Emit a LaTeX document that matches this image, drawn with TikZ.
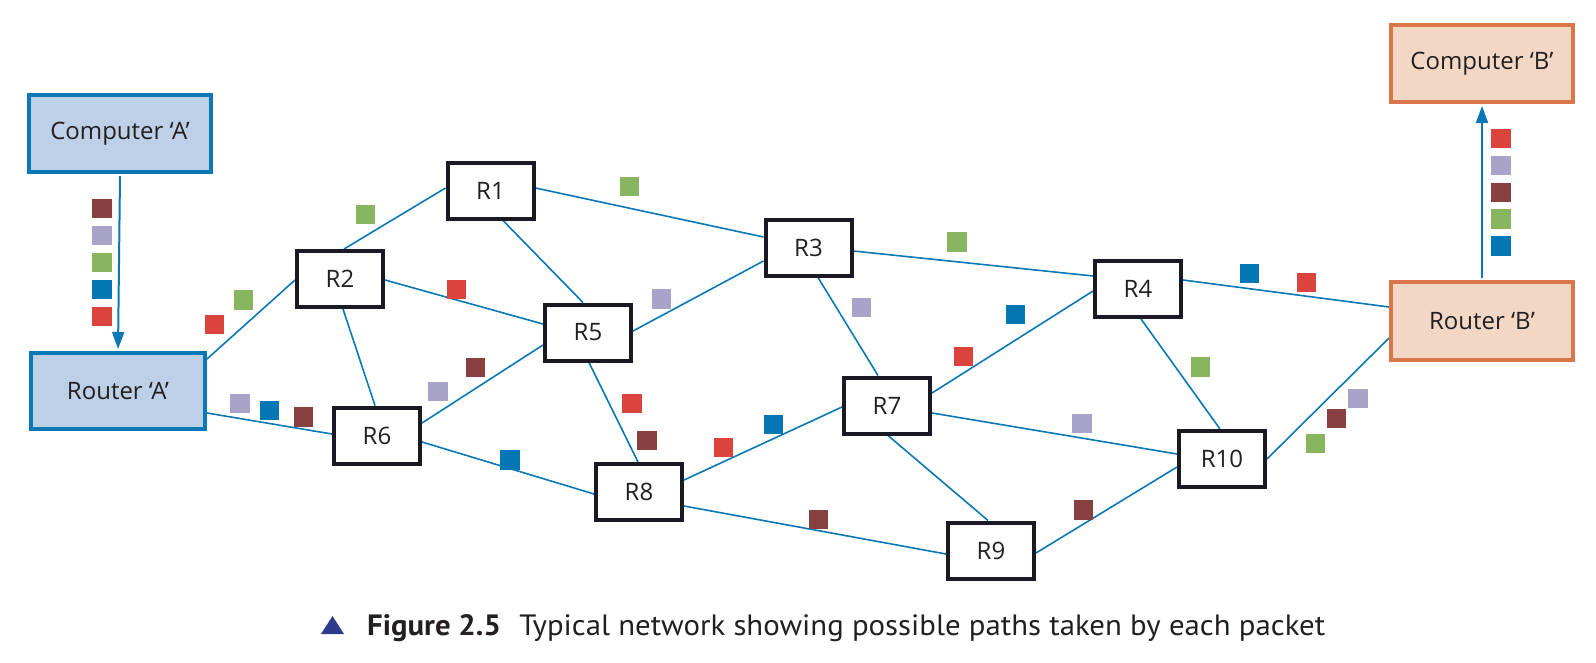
\documentclass[tikz,border=0pt]{standalone}
\usepackage{fontspec}
\setmainfont{Open Sans}
\newfontfamily\capfont{PT Sans}
\usetikzlibrary{arrows.meta,calc}
\definecolor{lineblue}{RGB}{10,120,181}
\definecolor{fillA}{RGB}{189,208,232}
\definecolor{fillB}{RGB}{242,216,196}
\definecolor{borderB}{RGB}{217,118,74}
\definecolor{routerdark}{RGB}{26,26,36}
\definecolor{txt}{RGB}{35,31,32}
\definecolor{pbrown}{RGB}{135,64,63}
\definecolor{plav}{RGB}{168,163,200}
\definecolor{pgreen}{RGB}{136,181,96}
\definecolor{pblue}{RGB}{6,119,181}
\definecolor{pred}{RGB}{219,67,61}
\definecolor{navy}{RGB}{46,58,140}
\pgfdeclarelayer{bg}
\pgfsetlayers{bg,main}
\begin{document}
\begin{tikzpicture}[x=1pt,y=-1pt,
  router/.style={draw=routerdark, line width=4pt, fill=white, minimum width=86pt, minimum height=56pt, inner sep=0pt, text=txt, font=\fontsize{24}{28}\selectfont},
  hostA/.style={draw=lineblue, line width=4pt, fill=fillA, minimum width=182pt, minimum height=77pt, inner sep=0pt, text=txt, font=\fontsize{24}{28}\selectfont},
  hostB/.style={draw=borderB, line width=4pt, fill=fillB, minimum width=182pt, minimum height=77pt, inner sep=0pt, text=txt, font=\fontsize{24}{28}\selectfont},
  link/.style={draw=lineblue, line width=1.6pt},
  flow/.style={draw=lineblue, line width=2pt, -{Triangle[length=17pt,width=12pt]}, shorten >=2pt},
  pkt/.style={fill=#1, minimum size=19.5pt, inner sep=0pt}
]
\useasboundingbox (0,0) rectangle (1596,662);
% hosts
\node[hostA] (CA) at (120,133.5) {Computer ‘A’};
\node[hostA, minimum width=174pt, minimum height=76pt] (RA) at (118,391) {Router ‘A’};
\node[hostB] (CB) at (1482,63.5) {Computer ‘B’};
\node[hostB, minimum height=78pt] (RB) at (1482,321) {Router ‘B’};
% routers
\node[router] (R1) at (490.5,190.5) {R1};
\node[router] (R2) at (340,279) {R2};
\node[router] (R3) at (808.5,247.5) {R3};
\node[router] (R4) at (1138,289) {R4};
\node[router] (R5) at (588,332.5) {R5};
\node[router] (R6) at (377,435.5) {R6};
\node[router] (R7) at (887,405.5) {R7};
\node[router] (R8) at (639,492) {R8};
\node[router] (R9) at (991,550.5) {R9};
\node[router] (R10) at (1222,459) {R10};
% links
\begin{pgfonlayer}{bg}
\draw[link] ($(RA.east)+(0,-32)$) -- ($(R2.west)+(0,1)$);
\draw[link] ($(RA.east)+(0,22)$) -- ($(R6.west)+(0,-1.5)$);
\draw[link] ($(R2.north)+(4,0)$) -- ($(R1.west)+(0,-2.5)$);
\draw[link] ($(R2.east)+(0,1)$) -- ($(R5.west)+(0,-8.5)$);
\draw[link] ($(R2.south)+(3,0)$) -- ($(R6.north)+(-2,0)$);
\draw[link] ($(R1.east)+(0,-2.5)$) -- ($(R3.west)+(0,-10.5)$);
\draw[link] ($(R1.south)+(12.5,0)$) -- ($(R5.north)+(-5,0)$);
\draw[link] ($(R5.east)+(0,-1.5)$) -- ($(R3.west)+(0,13.5)$);
\draw[link] ($(R6.east)+(0,-12.5)$) -- ($(R5.west)+(0,12.5)$);
\draw[link] ($(R6.east)+(0,6.5)$) -- ($(R8.west)+(0,2)$);
\draw[link] ($(R5.south)+(1,0)$) -- ($(R8.north)+(-1,0)$);
\draw[link] ($(R3.east)+(0,3.5)$) -- ($(R4.west)+(0,-13)$);
\draw[link] ($(R3.south)+(9.5,0)$) -- ($(R7.north)+(-9,0)$);
\draw[link] ($(R8.east)+(0,-12)$) -- ($(R7.west)+(0,1.5)$);
\draw[link] ($(R8.east)+(0,14)$) -- ($(R9.west)+(0,3.5)$);
\draw[link] ($(R7.east)+(0,-12.5)$) -- ($(R4.west)+(0,2)$);
\draw[link] ($(R7.east)+(0,7.5)$) -- ($(R10.west)+(0,-5)$);
\draw[link] ($(R7.south)+(1,0)$) -- ($(R9.north)+(-3,0)$);
\draw[link] ($(R9.east)+(0,2.5)$) -- ($(R10.west)+(0,8)$);
\draw[link] ($(R4.east)+(0,-9)$) -- ($(RB.west)+(0,-14)$);
\draw[link] ($(R4.south)+(3,0)$) -- ($(R10.north)+(-2,0)$);
\draw[link] (R10.east) -- ($(RB.west)+(0,17)$);
\end{pgfonlayer}
% flow arrows
\draw[flow] ($(CA.south)+(0,2)$) -- (RA.north);
\draw[flow] ($(RB.north)+(0,-2)$) -- (CB.south);
% packets
\node[pkt=pbrown] (a1) at (102,208.5) {};
\node[pkt=plav]   (a2) at (102,235.5) {};
\node[pkt=pgreen] (a3) at (102,262.5) {};
\node[pkt=pblue]  (a4) at (102,289.5) {};
\node[pkt=pred]   (a5) at (102,316.5) {};
\node[pkt=pgreen] (b1) at (243.5,300) {};
\node[pkt=pred]   (b2) at (214.5,324.5) {};
\node[pkt=pgreen] (b3) at (365.5,214.5) {};
\node[pkt=plav]   (c1) at (240,403.5) {};
\node[pkt=pblue]  (c2) at (269.5,410.5) {};
\node[pkt=pbrown] (c3) at (303.5,417) {};
\node[pkt=pred]   (d1) at (456.5,289.5) {};
\node[pkt=pgreen] (d2) at (629.5,186.5) {};
\node[pkt=plav]   (d3) at (661.5,299) {};
\node[pkt=plav]   (e1) at (438,391.5) {};
\node[pkt=pbrown] (e2) at (475.5,367.5) {};
\node[pkt=pblue]  (e3) at (510,460) {};
\node[pkt=pred]   (e4) at (632,403.5) {};
\node[pkt=pbrown] (e5) at (647,440.5) {};
\node[pkt=pred]   (f1) at (723.5,447.5) {};
\node[pkt=pblue]  (f2) at (773.5,424.5) {};
\node[pkt=pbrown] (f3) at (818.5,519.5) {};
\node[pkt=plav]   (f4) at (861.5,307.5) {};
\node[pkt=pgreen] (f5) at (957,242) {};
\node[pkt=pred]   (g1) at (963.5,356.5) {};
\node[pkt=pblue]  (g2) at (1015.5,314.5) {};
\node[pkt=plav]   (g3) at (1082,423.5) {};
\node[pkt=pbrown] (g4) at (1083.5,510) {};
\node[pkt=pgreen] (g5) at (1200.5,367) {};
\node[pkt=pblue]  (h1) at (1249.5,273.5) {};
\node[pkt=pred]   (h2) at (1306.5,282.5) {};
\node[pkt=plav]   (h3) at (1358,398.5) {};
\node[pkt=pbrown] (h4) at (1336.5,418.5) {};
\node[pkt=pgreen] (h5) at (1315.5,443.5) {};
\node[pkt=pred]   (k1) at (1501,138.5) {};
\node[pkt=plav]   (k2) at (1501,165.5) {};
\node[pkt=pbrown] (k3) at (1501,192.5) {};
\node[pkt=pgreen] (k4) at (1501,219) {};
\node[pkt=pblue]  (k5) at (1501,246) {};
% caption
\fill[navy] (321,634) -- (344,634) -- (332.5,616) -- cycle;
\node[anchor=base west, inner sep=0pt, text=txt] (cap) at (367,635) {\resizebox{958pt}{21pt}{\capfont\fontsize{30}{36}\selectfont\textbf{Figure 2.5}\hspace{0.6em}Typical network showing possible paths taken by each packet}};
\end{tikzpicture}
\end{document}
